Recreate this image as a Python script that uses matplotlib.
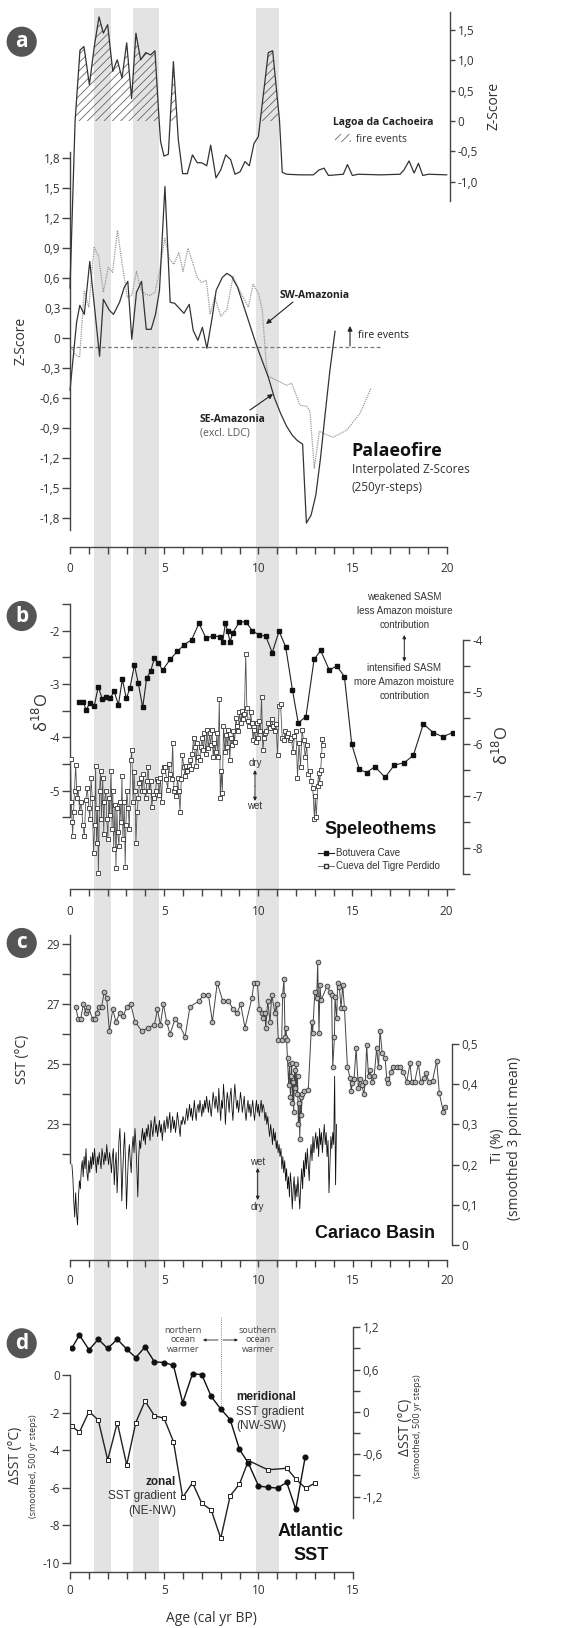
import numpy as np
import matplotlib.pyplot as plt
from matplotlib.patches import Patch
from matplotlib.lines import Line2D

plt.rcParams['font.family'] = ['Open Sans', 'DejaVu Sans']
plt.rcParams['hatch.linewidth'] = 0.6
ARIAL = ['Liberation Sans', 'DejaVu Sans']
AX = '#444444'

W, H = 564, 1628

# grey bands (ka)
bands = [(1.3, 2.2), (3.35, 4.7), (9.9, 11.1)]

# --- a: palaeofire
ldc_age = [0.0, 0.27, 0.53, 0.74, 1.03, 1.29, 1.54, 1.77, 2.00, 2.27, 2.51, 2.76, 3.01, 3.27, 3.50,
           3.75, 4.02, 4.28, 4.51, 4.73, 4.81, 4.99, 5.22, 5.49, 5.75, 5.98, 6.23, 6.50, 6.76, 6.99,
           7.26, 7.47, 7.75, 8.00, 8.27, 8.53, 8.76, 9.03, 9.29, 9.52, 9.77, 10.00, 10.53, 10.76,
           11.12, 11.27, 11.50, 12.20, 12.92, 13.22, 13.49, 13.72, 14.51, 14.73, 14.99, 15.31, 16.50,
           17.52, 17.73, 18.00, 18.27, 18.50, 18.73, 19.03, 20.00]
ldc_z = [-2.76, 0.0, 1.17, 1.23, 0.60, 1.23, 1.72, 1.45, 1.59, 0.82, 1.01, 0.71, 1.29, 0.37, 1.45,
         1.01, 1.13, 1.09, 1.16, 0.02, -0.34, -0.58, -0.55, 0.98, -0.31, -0.87, -0.87, -0.56, -0.69,
         -0.69, -0.74, -0.40, -0.94, -0.81, -0.56, -0.64, -0.88, -0.84, -0.67, -0.74, -0.37, -0.26,
         1.13, 1.16, 0.02, -0.85, -0.88, -0.89, -0.89, -0.81, -0.78, -0.90, -0.88, -0.72, -0.90,
         -0.88, -0.89, -0.88, -0.81, -0.66, -0.86, -0.70, -0.90, -0.88, -0.89]

se_age = [0.0, 0.35, 0.52, 0.76, 1.05, 1.57, 1.77, 2.09, 2.31, 2.63, 2.88, 3.07, 3.28, 3.53, 3.80,
          4.05, 4.31, 4.54, 4.75, 5.04, 5.32, 5.56, 6.05, 6.33, 6.54, 6.79, 7.03, 7.27, 7.55, 7.76,
          8.09, 8.33, 8.58, 8.90, 9.40, 9.90, 10.53, 10.86, 11.20, 11.50, 11.80, 12.05, 12.35, 12.55,
          12.80, 13.05, 13.30, 13.55, 13.80, 14.07]
se_z = [-0.52, 0.16, 0.33, 0.24, 0.77, -0.18, 0.39, 0.28, 0.24, 0.36, 0.51, 0.57, -0.01, 0.46, 0.57,
        0.09, 0.09, 0.24, 0.48, 1.52, 0.36, 0.35, 0.25, 0.34, 0.08, -0.02, 0.11, -0.10, 0.21, 0.48,
        0.61, 0.65, 0.62, 0.51, 0.22, -0.07, -0.39, -0.60, -0.76, -0.88, -0.97, -1.02, -1.06, -1.85,
        -1.77, -1.57, -1.20, -0.75, -0.32, 0.07]

sw_age = [0.07, 0.27, 0.51, 0.76, 1.00, 1.28, 1.52, 1.77, 2.03, 2.26, 2.52, 2.75, 3.04, 3.28, 3.53,
          3.77, 4.02, 4.26, 4.51, 4.75, 5.03, 5.29, 5.52, 5.78, 6.00, 6.26, 6.46, 6.75, 6.98, 7.24,
          7.44, 7.68, 8.01, 8.33, 8.66, 8.98, 9.47, 9.72, 10.01, 10.21, 10.42, 10.53, 10.97, 11.50,
          11.77, 12.21, 12.57, 12.74, 12.97, 13.24, 13.54, 13.98, 14.69, 15.40, 15.98]
sw_z = [-0.09, -0.16, -0.19, 0.48, 0.31, 0.91, 0.82, 0.46, 0.71, 0.66, 1.08, 0.77, 0.41, 0.43, 0.67,
        0.48, 0.44, 0.43, 0.46, 0.67, 1.00, 0.79, 0.74, 0.86, 0.67, 0.90, 0.79, 0.61, 0.56, 0.58,
        0.24, 0.41, 0.22, 0.29, 0.62, 0.49, 0.31, 0.54, 0.45, 0.28, -0.26, -0.38, -0.42, -0.47,
        -0.45, -0.67, -0.68, -0.73, -1.30, -0.93, -0.96, -0.99, -0.92, -0.75, -0.50]
fire_threshold = -0.085

# --- b: speleothems
bot_age = [0.46, 0.71, 0.85, 1.06, 1.29, 1.50, 1.72, 1.91, 2.12, 2.35, 2.57, 2.78, 2.99, 3.19, 3.42,
           3.63, 3.86, 4.07, 4.28, 4.48, 4.69, 4.92, 5.31, 5.70, 6.07, 6.46, 6.85, 7.22, 7.58, 7.96,
           8.11, 8.25, 8.37, 8.50, 8.64, 8.99, 9.33, 9.68, 10.04, 10.39, 10.74, 11.10, 11.45, 11.81,
           12.12, 12.53, 12.96, 13.31, 13.77, 14.16, 14.57, 14.96, 15.36, 15.75, 16.19, 16.73, 17.22,
           17.73, 18.23, 18.76, 19.29, 19.79, 20.32]
bot_d18o = [-3.33, -3.33, -3.49, -3.35, -3.41, -3.05, -3.29, -3.24, -3.27, -3.14, -3.39, -2.91, -3.27,
            -3.07, -2.64, -2.99, -3.44, -2.89, -2.76, -2.52, -2.61, -2.74, -2.54, -2.39, -2.26, -2.17,
            -1.86, -2.14, -2.10, -2.11, -2.21, -1.85, -2.01, -2.21, -2.04, -1.84, -1.83, -2.00, -2.08,
            -2.10, -2.41, -2.01, -2.30, -3.11, -3.73, -3.61, -2.54, -2.37, -2.74, -2.66, -2.86, -4.13,
            -4.60, -4.66, -4.55, -4.75, -4.52, -4.48, -4.34, -3.75, -3.91, -3.99, -3.91]

ctp_age = [0.03, 0.07, 0.11, 0.14, 0.19, 0.24, 0.30, 0.37, 0.43, 0.51, 0.60, 0.68, 0.76, 0.84, 0.92,
           1.00, 1.05, 1.12, 1.18, 1.25, 1.31, 1.36, 1.41, 1.46, 1.51, 1.57, 1.62, 1.67, 1.74, 1.79,
           1.83, 1.90, 1.95, 2.01, 2.06, 2.11, 2.18, 2.23, 2.27, 2.32, 2.39, 2.44, 2.49, 2.53, 2.60,
           2.65, 2.71, 2.76, 2.81, 2.88, 2.93, 2.97, 3.02, 3.09, 3.15, 3.22, 3.28, 3.35, 3.40, 3.45,
           3.50, 3.56, 3.63, 3.69, 3.76, 3.82, 3.89, 3.95, 4.02, 4.08, 4.15, 4.21, 4.28, 4.34, 4.41,
           4.47, 4.54, 4.60, 4.67, 4.73, 4.80, 4.86, 4.93, 4.99, 5.06, 5.12, 5.19, 5.25, 5.32, 5.39,
           5.45, 5.52, 5.58, 5.65, 5.71, 5.78, 5.84, 5.91, 5.97, 6.04, 6.10, 6.17, 6.23, 6.30, 6.36,
           6.43, 6.49, 6.56, 6.62, 6.69, 6.75, 6.82, 6.88, 6.95, 7.01, 7.08, 7.14, 7.21, 7.27, 7.34,
           7.41, 7.47, 7.54, 7.60, 7.67, 7.73, 7.80, 7.86, 7.93, 7.98, 8.04, 8.09, 8.15, 8.22, 8.28,
           8.35, 8.41, 8.48, 8.54, 8.61, 8.67, 8.74, 8.81, 8.87, 8.94, 9.00, 9.07, 9.13, 9.20, 9.26,
           9.33, 9.39, 9.46, 9.52, 9.59, 9.65, 9.72, 9.78, 9.85, 9.91, 9.98, 10.04, 10.11, 10.17,
           10.24, 10.30, 10.37, 10.43, 10.53, 10.61, 10.70, 10.78, 10.86, 10.94, 11.02, 11.10, 11.18,
           11.27, 11.35, 11.43, 11.51, 11.59, 11.67, 11.75, 11.84, 11.92, 12.00, 12.08, 12.16, 12.24,
           12.32, 12.40, 12.49, 12.57, 12.65, 12.73, 12.81, 12.89, 12.98, 13.02, 13.08, 13.15, 13.20,
           13.26, 13.31, 13.36, 13.40, 13.44]
ctp_d18o = [-6.28, -7.10, -7.49, -7.76, -7.30, -6.90, -6.39, -7.03, -6.84, -7.30, -7.10, -7.56, -7.76,
            -7.07, -6.84, -7.23, -7.43, -6.64, -7.03, -8.08, -7.56, -6.41, -7.89, -7.23, -8.48, -6.90,
            -6.51, -7.43, -6.64, -7.72, -7.10, -6.90, -7.43, -7.82, -7.03, -7.36, -6.51, -7.62, -6.90,
            -8.02, -7.16, -8.38, -7.23, -7.69, -7.95, -7.10, -7.49, -6.61, -7.82, -7.10, -8.35, -7.56,
            -6.90, -7.23, -7.62, -6.31, -6.12, -7.10, -6.54, -6.90, -7.89, -7.30, -7.03, -6.74, -6.64,
            -6.90, -6.57, -6.90, -7.03, -6.71, -6.44, -6.90, -6.71, -7.20, -6.97, -7.03, -6.90, -6.67,
            -6.71, -6.97, -6.64, -7.10, -6.51, -6.44, -6.44, -6.67, -6.87, -6.38, -6.57, -6.67, -5.98,
            -6.90, -6.84, -7.00, -6.64, -6.90, -7.30, -6.67, -6.21, -6.44, -6.61, -6.41, -6.51, -6.41,
            -6.31, -6.48, -6.18, -5.89, -6.05, -6.41, -5.98, -6.25, -6.31, -6.05, -5.89, -6.12, -5.79,
            -6.18, -5.72, -6.08, -5.79, -6.02, -5.72, -6.25, -5.98, -6.15, -5.79, -6.25, -5.13, -7.03,
            -6.51, -6.94, -5.66, -6.15, -5.82, -6.05, -5.72, -6.31, -5.89, -6.02, -5.75, -5.95, -5.49,
            -5.66, -5.75, -5.39, -5.59, -5.36, -5.52, -5.43, -4.27, -5.30, -5.56, -5.66, -5.39, -5.59,
            -5.92, -5.72, -5.95, -5.59, -5.89, -5.56, -5.75, -5.09, -6.12, -5.89, -5.79, -5.75, -5.59,
            -5.69, -5.52, -5.66, -5.75, -5.62, -6.21, -5.26, -5.23, -5.89, -5.92, -5.75, -5.85, -5.79,
            -5.92, -5.89, -6.15, -5.85, -5.75, -6.64, -5.98, -6.44, -5.72, -5.92, -6.25, -6.02, -6.57,
            -6.51, -6.71, -6.84, -7.43, -7.00, -7.40, -6.80, -6.55, -6.75, -6.50, -6.21, -5.90, -6.02]

# --- c: Cariaco basin
sst_age = [0.30, 0.44, 0.57, 0.71, 0.83, 0.92, 0.97, 1.20, 1.33, 1.42, 1.54, 1.68, 1.82, 1.95, 2.09,
           2.27, 2.44, 2.65, 2.83, 3.01, 3.22, 3.45, 3.81, 4.16, 4.48, 4.64, 4.80, 4.96, 5.13, 5.31,
           5.58, 5.81, 6.11, 6.37, 6.85, 7.08, 7.35, 7.56, 7.82, 8.11, 8.41, 8.67, 8.88, 9.06, 9.29,
           9.66, 9.77, 9.95, 10.05, 10.18, 10.27, 10.35, 10.39, 10.50, 10.62, 10.71, 10.88, 10.97,
           11.06, 11.24, 11.29, 11.36, 11.42, 11.47, 11.50, 11.55, 11.61, 11.66, 11.70, 11.74, 11.77,
           11.80, 11.84, 11.88, 11.92, 11.96, 12.00, 12.04, 12.08, 12.12, 12.16, 12.20, 12.24, 12.28,
           12.33, 12.40, 12.65, 12.83, 12.88, 13.00, 13.10, 13.15, 13.22, 13.27, 13.33, 13.66, 13.80,
           13.89, 13.95, 14.04, 14.07, 14.16, 14.21, 14.30, 14.39, 14.48, 14.57, 14.73, 14.87, 14.93,
           14.99, 15.08, 15.19, 15.31, 15.40, 15.50, 15.60, 15.68, 15.75, 15.85, 15.93, 16.05, 16.15,
           16.28, 16.38, 16.46, 16.58, 16.73, 16.82, 16.90, 17.03, 17.17, 17.35, 17.52, 17.70, 17.88,
           18.05, 18.15, 18.30, 18.50, 18.62, 18.77, 18.90, 19.06, 19.25, 19.47, 19.61, 19.82, 19.93]
sst = [26.91, 26.50, 26.50, 27.00, 26.71, 26.80, 26.91, 26.50, 26.50, 26.71, 26.91, 26.91, 27.41,
       27.21, 26.10, 26.82, 26.41, 26.71, 26.60, 26.91, 27.00, 26.41, 26.10, 26.21, 26.30, 26.82,
       26.30, 27.00, 26.41, 26.00, 26.50, 26.30, 25.91, 26.91, 27.10, 27.30, 27.30, 26.41, 27.71,
       27.10, 27.10, 26.82, 26.71, 27.00, 26.21, 27.21, 27.71, 27.71, 26.82, 26.71, 26.52, 26.71,
       26.21, 27.10, 26.41, 27.30, 26.71, 27.00, 25.80, 25.80, 27.30, 27.82, 25.91, 26.21, 25.80,
       25.19, 24.30, 25.00, 23.90, 24.60, 25.02, 23.70, 24.40, 23.40, 24.80, 24.20, 25.00, 24.00,
       24.60, 23.00, 23.70, 22.50, 23.90, 23.30, 24.00, 24.10, 24.13, 26.41, 26.02, 27.41, 27.21,
       28.41, 26.02, 27.63, 27.13, 27.61, 27.41, 27.30, 24.91, 25.91, 27.22, 26.52, 27.71, 27.58,
       26.86, 27.63, 26.86, 24.91, 24.52, 24.10, 24.36, 24.50, 25.52, 24.19, 24.50, 24.30, 24.00,
       24.40, 25.63, 24.60, 24.80, 24.40, 24.60, 25.52, 24.90, 26.11, 25.36, 25.19, 24.50, 24.36,
       24.74, 24.90, 24.90, 24.90, 24.74, 24.41, 25.02, 24.40, 24.40, 25.02, 24.40, 24.52, 24.70,
       24.40, 24.45, 25.11, 24.02, 23.41, 23.58]

# Ti read every 50 yr from 0.10 to 14.05 ka, then the last three samples
ti_age = np.concatenate([np.round(np.arange(0.10, 14.06, 0.05), 2), [14.10, 14.15]])
ti = [0.20, 0.17, 0.11, 0.07, 0.13, 0.08, 0.05, 0.12, 0.16, 0.14, 0.19, 0.21, 0.17, 0.22, 0.19, 0.24, 0.18, 0.16, 0.21, 0.18,
      0.22, 0.19, 0.23, 0.20, 0.24, 0.21, 0.18, 0.22, 0.20, 0.23, 0.21, 0.19, 0.24, 0.22, 0.20, 0.23, 0.21, 0.25, 0.22, 0.20,
      0.23, 0.21, 0.18, 0.22, 0.24, 0.15, 0.20, 0.23, 0.13, 0.19, 0.26, 0.29, 0.22, 0.11, 0.18, 0.24, 0.28, 0.20, 0.09, 0.16,
      0.22, 0.25, 0.21, 0.18, 0.24, 0.27, 0.23, 0.29, 0.25, 0.19, 0.12, 0.22, 0.26, 0.24, 0.27, 0.29, 0.26, 0.28, 0.25, 0.29,
      0.27, 0.30, 0.28, 0.26, 0.31, 0.29, 0.27, 0.30, 0.32, 0.28, 0.30, 0.27, 0.29, 0.31, 0.28, 0.30, 0.26, 0.29, 0.31, 0.28,
      0.30, 0.32, 0.29, 0.31, 0.33, 0.28, 0.30, 0.32, 0.29, 0.31, 0.28, 0.30, 0.33, 0.31, 0.29, 0.27, 0.31, 0.30, 0.32, 0.31,
      0.30, 0.32, 0.34, 0.31, 0.33, 0.35, 0.32, 0.34, 0.31, 0.33, 0.36, 0.33, 0.31, 0.34, 0.35, 0.33, 0.36, 0.34, 0.32, 0.35,
      0.33, 0.36, 0.34, 0.37, 0.35, 0.33, 0.36, 0.34, 0.32, 0.35, 0.38, 0.36, 0.34, 0.37, 0.35, 0.33, 0.39, 0.35, 0.31, 0.36,
      0.34, 0.40, 0.36, 0.30, 0.35, 0.38, 0.36, 0.33, 0.37, 0.39, 0.34, 0.31, 0.36, 0.40, 0.37, 0.34, 0.36, 0.33, 0.35, 0.38,
      0.36, 0.33, 0.35, 0.37, 0.33, 0.31, 0.34, 0.36, 0.33, 0.35, 0.32, 0.34, 0.36, 0.33, 0.31, 0.34, 0.36, 0.33, 0.35, 0.32,
      0.34, 0.36, 0.33, 0.35, 0.34, 0.31, 0.33, 0.30, 0.32, 0.29, 0.27, 0.30, 0.28, 0.25, 0.29, 0.26, 0.28, 0.24, 0.26, 0.23,
      0.25, 0.22, 0.24, 0.19, 0.22, 0.18, 0.21, 0.16, 0.19, 0.14, 0.17, 0.12, 0.18, 0.15, 0.09, 0.14, 0.17, 0.11, 0.15, 0.12,
      0.17, 0.13, 0.09, 0.15, 0.19, 0.14, 0.21, 0.17, 0.23, 0.19, 0.24, 0.20, 0.16, 0.22, 0.25, 0.21, 0.27, 0.23, 0.26, 0.28,
      0.24, 0.27, 0.22, 0.29, 0.25, 0.28, 0.23, 0.27, 0.30, 0.25, 0.28, 0.22, 0.26, 0.13, 0.20, 0.27, 0.24, 0.28, 0.25, 0.42,
      0.15, 0.30]

# --- d: Atlantic SST gradients
mer_age = [0.09, 0.50, 1.01, 1.50, 2.00, 2.51, 3.01, 3.49, 3.98, 4.48, 4.99, 5.49, 5.98, 6.50, 6.99,
           7.49, 8.00, 8.50, 8.99, 9.47, 10.00, 10.50, 11.01, 11.50, 11.98, 12.48]
mer_dsst = [0.90, 1.09, 0.88, 1.03, 0.90, 1.03, 0.89, 0.77, 0.92, 0.71, 0.70, 0.66, 0.13, 0.54, 0.53,
            0.22, 0.04, -0.11, -0.53, -0.73, -1.05, -1.07, -1.08, -1.00, -1.38, -0.64]
zon_age = [0.09, 0.50, 1.01, 1.50, 2.00, 2.51, 3.01, 3.49, 3.98, 4.48, 4.99, 5.49, 5.98, 6.50, 6.99,
           7.49, 8.00, 8.50, 8.99, 9.47, 10.50, 11.50, 12.00, 12.51, 13.01]
zon_dsst = [-2.72, -3.05, -1.95, -2.40, -4.53, -2.54, -4.79, -2.54, -1.39, -2.17, -2.31, -3.55, -6.52,
            -5.74, -6.84, -7.19, -8.70, -6.43, -5.82, -4.56, -5.05, -4.97, -5.56, -6.04, -5.74]


def rect(x0, y0, x1, y1):
    return [x0 / W, 1 - y1 / H, (x1 - x0) / W, (y1 - y0) / H]


def P(x, y):
    return (x / W, 1 - y / H)


def comma(v):
    return "0" if abs(v) < 1e-9 else f"{v:.1f}".replace(".", ",")


def clean(ax, left=False, right=False, bottom=False):
    ax.patch.set_alpha(0)
    for side, on in (("left", left), ("right", right), ("bottom", bottom), ("top", False)):
        ax.spines[side].set_visible(on)
        ax.spines[side].set_color(AX)
        ax.spines[side].set_linewidth(1.0)
    ax.tick_params(which="both", colors=AX, labelcolor="#333", labelsize=8.5, width=1.0,
                   direction="out", left=left, right=right, bottom=bottom, top=False,
                   labelleft=left, labelright=right, labelbottom=bottom)
    ax.tick_params(which="major", length=5.5, pad=1.5)
    ax.tick_params(which="minor", length=5.5)


def age_axis(ax, xmax, pad):
    ax.set_xticks(range(0, int(xmax) + 1, 5))
    ax.set_xticks(range(0, int(xmax) + 1), minor=True)
    ax.tick_params(axis="x", which="both", length=5, pad=pad)


def arrow(ax, x0, y0, x1, y1, style="-|>", lw=0.8, ms=7):
    ax.annotate("", xy=P(x1, y1), xytext=P(x0, y0), xycoords="figure fraction",
                textcoords="figure fraction", annotation_clip=False,
                arrowprops=dict(arrowstyle=style, color="#222", lw=lw, mutation_scale=ms,
                                shrinkA=0, shrinkB=0))


def txt(x, y, s, size=7.5, ha="left", family=None, **kw):
    kw.setdefault("color", "#222")
    fig.text(*P(x, y), s, fontsize=size, ha=ha, va="center", family=family, **kw)


def badge(x, y, s):
    fig.text(*P(x, y), s, fontsize=15, fontweight="bold", color="white", ha="center",
             va="center", bbox=dict(boxstyle="circle,pad=0.22", fc="#555555", ec="none"))


fig = plt.figure(figsize=(W / 100, H / 100), dpi=100)

bg = fig.add_axes(rect(70, 8, 446.7, 1572), zorder=0)
bg.set_xlim(0, 20)
bg.axis("off")
for lo, hi in bands:
    bg.axvspan(lo, hi, color="#e3e3e3", lw=0)

# ---------------- panel a
axa = fig.add_axes(rect(70, 151.7, 446.7, 530), zorder=2)
clean(axa, left=True, bottom=True)
axa.set_xlim(0, 20)
axa.set_ylim(-1.919, 1.868)
axa.spines["bottom"].set_position(("outward", 12))
age_axis(axa, 20, 6)
yt = [1.8, 1.5, 1.2, 0.9, 0.6, 0.3, 0, -0.3, -0.6, -0.9, -1.2, -1.5, -1.8]
axa.set_yticks(yt, [comma(v) for v in yt])
axa.hlines(fire_threshold, 0, 16.55, colors="#777", linestyles=(0, (3, 2)), lw=0.9)
axa.plot(sw_age, sw_z, color="#999", lw=0.9, ls=(0, (1, 0.8)), clip_on=False)
axa.plot(se_age, se_z, color="#333", lw=0.9, clip_on=False)
axa.set_ylabel("Z-Score", fontsize=10, color="#333", labelpad=8)

axl = fig.add_axes(rect(70, 12, 446.7, 200.7), zorder=3)
clean(axl, right=True)
axl.set_xlim(0, 20)
axl.set_ylim(-1.317, 1.80)
axl.spines["right"].set_position(("outward", 2.4))
lt = [1.5, 1.0, 0.5, 0, -0.5, -1.0]
axl.set_yticks(lt, [comma(v) for v in lt])
axl.tick_params(axis="y", length=3.6, pad=2)
lz = np.array(ldc_z)
axl.fill_between(ldc_age, 0, lz, where=lz > 0, interpolate=True, facecolor="none",
                 edgecolor="#666", hatch="////", lw=0)
axl.plot(ldc_age, ldc_z, color="#333", lw=0.9, clip_on=False)
axl.yaxis.set_label_position("right")
axl.set_ylabel("Z-Score", fontsize=10, color="#333", labelpad=6)

txt(333, 122.7, "Lagoa da Cachoeira", 7.5, fontweight="bold")
fig.legend(handles=[Patch(facecolor="none", edgecolor="#666", hatch="////", lw=0)],
           labels=["fire events"], loc="center left", bbox_to_anchor=P(335, 139),
           frameon=False, handlelength=1.5, handleheight=0.9, borderpad=0, borderaxespad=0,
           handletextpad=0.5, prop={"size": 7.5}, labelcolor="#333")
txt(280, 296, "SW-Amazonia", 7.5, fontweight="bold")
arrow(axa, 293, 302, 266, 324)
txt(358, 336, "fire events", 7.5)
arrow(axa, 350, 346, 350, 326)
txt(200, 420, "SE-Amazonia", 7.5, fontweight="bold")
txt(200, 433, "(excl. LDC)", 7.5, color="#555")
arrow(axa, 250, 410, 273, 394)
txt(351, 451, "Palaeofire", 13, fontweight="bold", color="#111")
txt(352, 470, "Interpolated Z-Scores", 8.5, color="#333")
txt(352, 487, "(250yr-steps)", 8.5, color="#333")
badge(21.7, 41.7, "a")

# ---------------- panel b
axb = fig.add_axes(rect(70, 603.3, 454, 889.3), zorder=2)
clean(axb, left=True, bottom=True)
axb.set_xlim(0, 20.39)
axb.set_ylim(-6.85, -1.486)
axb.spines["left"].set_bounds(-5.5, -1.5)
age_axis(axb, 20, 6)
axb.set_yticks([-2, -3, -4, -5], ["-2", "-3", "-4", "-5"])
axb.set_yticks([-1.5, -2.5, -3.5, -4.5, -5.5], minor=True)
axb.plot(bot_age, bot_d18o, "-s", color="#222", lw=0.8, ms=2.6, mfc="#111", mec="#111")

axb2 = axb.twinx()
clean(axb2, right=True)
axb2.set_zorder(3)
axb2.set_ylim(-8.785, -3.296)
axb2.spines["right"].set_position(("outward", 6.7))
axb2.spines["right"].set_bounds(-8.5, -4)
axb2.set_yticks([-4, -5, -6, -7, -8], ["-4", "-5", "-6", "-7", "-8"])
axb2.set_yticks([-4.5, -5.5, -6.5, -7.5, -8.5], minor=True)
axb2.tick_params(axis="y", which="both", length=5, pad=1.5)
axb2.plot(ctp_age, ctp_d18o, "-s", color="#555", lw=0.6, ms=2.7, mfc="white", mec="#333",
          mew=0.6)

fig.text(*P(42, 712), "δ$^{18}$O", fontsize=12, rotation=90, ha="center", va="center",
         color="#333")
fig.text(*P(502, 745), "δ$^{18}$O", fontsize=12, rotation=90, ha="center", va="center",
         color="#333")
for y, s in zip([596.7, 611, 625], ["weakened SASM", "less Amazon moisture", "contribution"]):
    txt(404.3, y, s, 7, ha="center", family=ARIAL, color="#333")
arrow(axb, 404.3, 648, 404.3, 635, style="-|>", lw=0.7, ms=5)
arrow(axb, 404.3, 648, 404.3, 661.7, style="-|>", lw=0.7, ms=5)
for y, s in zip([667.7, 681.7, 695.7], ["intensified SASM", "more Amazon moisture", "contribution"]):
    txt(404.3, y, s, 7, ha="center", family=ARIAL, color="#333")
txt(255, 762.7, "dry", 7, ha="center", family=ARIAL, color="#333")
arrow(axb, 255, 786, 255, 770, style="-|>", lw=0.7, ms=5)
arrow(axb, 255, 786, 255, 801, style="-|>", lw=0.7, ms=5)
txt(255, 806.5, "wet", 7, ha="center", family=ARIAL, color="#333")
txt(324, 830, "Speleothems", 13, family=ARIAL, fontweight="bold", color="#111")
leg_handles = [Line2D([], [], color="#222", lw=0.8, marker="s", ms=2.6, mfc="#111", mec="#111"),
               Line2D([], [], color="#555", lw=0.6, marker="s", ms=2.7, mfc="white", mec="#333")]
fig.legend(leg_handles, ["Botuvera Cave", "Cueva del Tigre Perdido"], loc="upper left",
           bbox_to_anchor=P(318, 848), frameon=False, borderpad=0, borderaxespad=0,
           handlelength=1.6, handletextpad=0.3, labelspacing=0.35,
           prop={"family": ARIAL, "size": 7}, labelcolor="#333")
badge(21.7, 616, "b")

# ---------------- panel c
axc = fig.add_axes(rect(70, 935, 446.7, 1260), zorder=2)
clean(axc, left=True, bottom=True)
axc.set_xlim(0, 20)
axc.set_ylim(18.47, 29.3)
axc.spines["left"].set_bounds(21.7, 29.3)
age_axis(axc, 20, 5)
axc.set_yticks([23, 25, 27, 29], ["23", "25", "27", "29"])
axc.set_yticks([22, 24, 26, 28], minor=True)
axc.set_ylabel("SST (°C)", fontsize=10, color="#333", labelpad=14)
axc.yaxis.set_label_coords(-40 / 376.7, (1260 - 1059) / 325)

axc2 = axc.twinx()
clean(axc2, right=True)
axc2.set_zorder(1)
axc2.set_ylim(-0.037, 0.771)
axc2.spines["right"].set_position(("outward", 3.6))
axc2.spines["right"].set_bounds(0, 0.5)
tt = [0.5, 0.4, 0.3, 0.2, 0.1, 0]
axc2.set_yticks(tt, [comma(v) for v in tt])
axc2.tick_params(axis="y", length=5, pad=2)
axc2.plot(ti_age, ti, color="#111", lw=0.6)
axc.plot(sst_age, sst, "-o", color="#444", lw=0.7, ms=3.4, mfc="#b5b5b5", mec="#333", mew=0.6)

fig.text(*P(497, 1146), "Ti (%)", fontsize=10, rotation=90, ha="center", va="center", color="#333")
fig.text(*P(514, 1138), "(smoothed 3 point mean)", fontsize=10, rotation=90, ha="center",
         va="center", color="#333")
txt(257.7, 1161.7, "wet", 7, ha="center", family=ARIAL, color="#333")
arrow(axc, 257.7, 1184, 257.7, 1168, style="-|>", lw=0.7, ms=5)
arrow(axc, 257.7, 1184, 257.7, 1200, style="-|>", lw=0.7, ms=5)
txt(257.7, 1206.7, "dry", 7, ha="center", family=ARIAL, color="#333")
txt(435, 1233, "Cariaco Basin", 13, ha="right", family=ARIAL, fontweight="bold", color="#111")
badge(21.7, 943, "c")

# ---------------- panel d
axd = fig.add_axes(rect(70, 1316, 352.7, 1572.3), zorder=2)
clean(axd, left=True, bottom=True)
axd.set_xlim(0, 15)
axd.set_ylim(-10.51, 3.14)
axd.spines["left"].set_bounds(-10, 0)
age_axis(axd, 15, 3.5)
dt = [0, -2, -4, -6, -8, -10]
axd.set_yticks(dt, [str(v) for v in dt])
axd.vlines(8, -1.87, 3.1, colors="#888", linestyles=(0, (1, 1.2)), lw=0.7)
axd.plot(zon_age, zon_dsst, "-s", color="#222", lw=1.0, ms=3.0, mfc="white", mec="#222", mew=0.7)
axd.set_xlabel("Age (cal yr BP)", fontsize=10, color="#333", labelpad=10)

axd2 = axd.twinx()
clean(axd2, right=True)
axd2.set_ylim(-2.275, 1.36)
axd2.spines["right"].set_bounds(-1.51, 1.2)
rt = [1.2, 0.6, 0, -0.6, -1.2]
axd2.set_yticks(rt, [comma(v) for v in rt])
axd2.set_yticks([0.9, 0.3, -0.3, -0.9], minor=True)
axd2.tick_params(axis="y", which="both", length=5, pad=2)
axd2.plot(mer_age, mer_dsst, "-o", color="#111", lw=1.0, ms=3.4)

for y, s in zip([1330.7, 1340, 1349.3], ["northern", "ocean", "warmer"]):
    txt(183, y, s, 6.5, ha="center", color="#444")
for y, s in zip([1330.7, 1340, 1349.3], ["southern", "ocean", "warmer"]):
    txt(258, y, s, 6.5, ha="center", color="#444")
arrow(axd, 218, 1340, 203, 1340, lw=0.6, ms=4)
arrow(axd, 223, 1340, 238, 1340, lw=0.6, ms=4)
txt(236, 1397.3, "meridional", 8.5, family=ARIAL, fontweight="bold")
txt(236, 1411.7, "SST gradient", 8.5, family=ARIAL, color="#333")
txt(236, 1426, "(NW-SW)", 8.5, family=ARIAL, color="#333")
txt(176, 1481.7, "zonal", 8.5, ha="right", family=ARIAL, fontweight="bold")
txt(176, 1496, "SST gradient", 8.5, ha="right", family=ARIAL, color="#333")
txt(176, 1511, "(NE-NW)", 8.5, ha="right", family=ARIAL, color="#333")
txt(311, 1531.7, "Atlantic", 13, ha="center", family=ARIAL, fontweight="bold", color="#111")
txt(311, 1555, "SST", 13, ha="center", family=ARIAL, fontweight="bold", color="#111")
fig.text(*P(15, 1455), "ΔSST (°C)", fontsize=10, rotation=90, ha="center", va="center", color="#333")
fig.text(*P(33, 1466), "(smoothed, 500 yr steps)", fontsize=6.5, rotation=90, ha="center",
         va="center", color="#333")
fig.text(*P(405, 1427), "ΔSST (°C)", fontsize=10, rotation=90, ha="center", va="center", color="#333")
fig.text(*P(418, 1426), "(smoothed, 500 yr steps)", fontsize=6.5, rotation=90, ha="center",
         va="center", color="#333")
badge(21.7, 1343.3, "d")

fig.savefig("out.png", dpi=100)
